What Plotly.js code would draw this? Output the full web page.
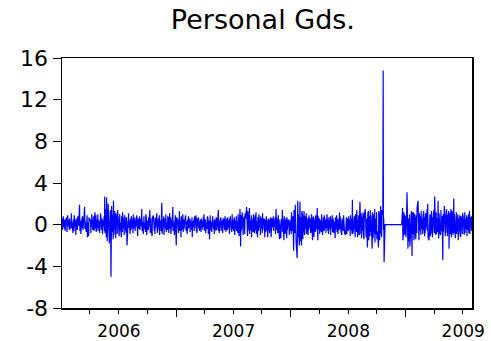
<!DOCTYPE html>
<html>
<head>
<meta charset="utf-8">
<script src="https://cdn.plot.ly/plotly-3.0.1.min.js"></script>
<style>
html,body{margin:0;padding:0;background:#fff;}
#chart{width:491px;height:341px;}
</style>
</head>
<body>
<div id="chart"></div>
<script>
// Daily values (business days), one array per year
const chartTitle = "Personal Gds.";
const years = [2006, 2007, 2008, 2009];
const yearLabels = ["2006", "2007", "2008", "2009"];
const yTicks = [-8, -4, 0, 4, 8, 12, 16];

const values2006 = [
 0.3,-0.5,0.6,-0.2,0.8,-0.4,0.1,0.5,-0.6,0.2,0.7,-0.3,-0.7,0.4,0.9,-0.2,0.3,-0.5,0.6,0.1,
 -0.4,0.7,1.1,-0.3,0.2,-0.8,0.5,0.3,-0.6,0.9,-0.2,0.4,-1.0,0.6,0.2,-0.5,0.8,-0.3,0.5,-0.1,
 1.9,-0.6,0.4,0.2,-0.9,0.6,-0.3,0.8,0.1,-0.5,0.5,1.0,1.7,-0.4,0.3,-0.7,0.6,-0.2,0.9,-1.2,
 0.2,-1.1,0.7,-0.4,0.5,0.3,-0.8,0.6,-0.2,1.0,-0.5,0.4,-0.3,0.8,-0.6,1.2,-0.4,0.2,0.9,-0.7,
 0.5,-0.3,1.0,-0.6,0.4,0.2,-0.8,0.7,-0.2,1.1,-0.5,0.3,0.6,-0.9,0.4,-0.2,0.8,-0.6,2.7,-0.8,
 1.5,-1.2,2.6,0.4,-1.6,2.0,-0.5,1.2,-0.9,-1.8,1.4,0.6,-5.0,-1.2,1.8,-0.7,0.9,-1.4,2.3,-1.0,
 1.3,-0.8,0.6,-1.3,1.1,0.3,-0.9,1.4,-0.5,0.7,-1.1,0.4,1.0,-0.6,0.2,-1.2,0.8,0.5,-0.7,1.2,
 -0.4,0.6,-1.0,0.3,0.9,-0.5,-0.8,0.7,0.2,-2.0,0.5,-0.6,1.1,-0.3,0.4,-0.9,0.6,0.2,-0.5,0.8,
 -0.3,0.5,-0.8,1.0,-0.4,0.2,0.7,-0.6,0.3,-0.2,0.9,-0.7,0.4,-1.1,0.6,0.1,-0.4,0.8,-0.5,0.3,
 0.6,-0.2,1.5,-0.6,0.3,-0.9,0.5,0.8,-0.4,0.2,-0.7,1.0,-0.3,0.6,-1.0,0.4,0.2,-0.5,0.7,-0.2,
 1.4,-0.8,0.3,0.6,-0.5,-1.1,0.8,-0.2,0.4,0.9,-0.6,0.2,-0.9,0.7,-0.3,0.5,1.1,-0.4,-0.8,0.3,
 0.6,-0.5,0.9,-1.0,0.4,0.2,-0.6,1.2,2.1,-0.9,0.5,-0.3,0.8,-1.0,0.3,0.6,-0.4,1.0,-0.7,0.2,
 -0.5,0.8,-0.3,0.6,-0.8,1.1,-0.4,0.3,0.7,-0.9,0.5,-0.2,1.0,1.7,-0.6,0.3,-1.0,0.6,-0.4,0.9
];
const values2007 = [
 -2.0,0.7,-0.4,0.5,0.2,-0.8,0.6,-0.3,1.3,-0.6,0.4,-1.2,0.8,0.2,-0.5,1.0,-0.7,0.3,0.5,-0.4,
 0.6,-0.2,0.9,-0.6,0.3,-0.9,0.5,0.1,-0.4,0.8,-0.3,0.6,-0.7,0.4,0.2,-0.5,0.7,-1.2,0.3,-0.2,
 0.5,-0.6,0.8,-0.3,0.2,0.9,-0.5,0.4,-0.8,0.6,-0.2,0.7,-0.4,0.3,-0.6,0.5,0.1,-0.7,0.6,-0.3,
 0.4,-0.5,0.7,-0.2,1.0,-0.6,0.3,0.5,-0.8,0.2,-0.4,0.8,-0.3,0.6,-0.9,0.4,-1.4,0.5,0.9,-0.5,
 0.3,-0.7,0.6,-0.2,0.8,-0.4,0.2,-0.9,0.5,0.3,-0.6,0.7,-0.3,0.4,-0.5,0.9,1.4,-0.6,0.3,-0.8,
 0.5,-0.3,0.7,-0.6,0.2,0.4,-0.8,0.6,-0.2,0.5,-0.5,0.8,-0.4,0.3,-0.7,0.6,0.1,-0.5,0.7,-0.3,
 0.4,-0.9,0.6,-0.2,0.8,-0.5,0.3,-0.7,1.0,-0.4,0.5,-0.6,0.2,0.7,-1.0,0.4,-0.3,0.8,-0.6,0.3,
 -0.8,1.0,-0.5,0.6,-1.1,1.5,-0.7,-2.1,0.9,-0.6,1.2,-0.4,0.7,-1.0,0.5,0.8,-0.9,1.1,-0.3,0.6,
 1.7,-0.8,0.5,-1.1,1.3,0.3,-0.6,1.6,-0.9,0.4,-0.5,0.9,-1.2,0.6,0.2,-0.7,1.0,-0.4,0.5,-0.8,
 0.9,-0.5,1.2,-0.9,0.3,-1.2,0.7,0.4,-0.6,1.0,-0.3,0.5,-1.0,0.8,-0.4,0.6,-0.8,1.1,-0.5,0.3,
 0.6,-0.4,-1.2,0.5,-0.7,0.8,0.2,-0.6,0.4,-1.2,0.6,-0.3,0.5,-0.8,0.3,0.7,-1.2,0.4,-0.5,0.6,
 -0.3,0.8,-0.6,0.4,-0.2,0.7,-0.9,0.3,1.5,-0.5,0.6,-0.8,0.2,0.9,-0.4,-1.4,0.5,-0.6,0.3,-1.3,
 0.6,0.2,1.4,-0.7,0.5,-1.5,0.8,-0.4,0.3,-0.9,0.6,-0.3,-1.3,0.7,-0.5,0.4,-0.8,0.5,-1.0,0.3,-0.6
];
const values2008 = [
 0.5,-0.9,1.2,-0.6,0.8,-1.1,0.6,-2.5,1.4,-0.8,1.9,-1.5,0.9,-1.8,-3.2,1.6,2.3,-1.2,1.0,-2.0,
 1.5,2.2,-1.6,0.7,-2.0,1.3,-0.8,0.9,-1.4,0.5,1.3,-0.6,-1.0,0.8,-0.4,1.1,-0.9,0.6,0.3,-1.0,
 0.7,-0.5,0.9,-0.3,0.6,-0.8,0.4,-0.6,1.0,-1.5,0.5,-0.4,0.8,-1.2,0.3,0.6,-0.7,0.9,-0.5,0.4,
 1.6,-0.6,-1.5,0.8,-0.4,0.6,-0.9,0.5,0.2,-0.7,1.0,-0.5,0.4,-1.0,0.7,0.3,-0.6,0.9,-0.4,0.5,
 -0.8,0.6,-0.3,1.0,-0.6,0.4,-0.9,0.7,0.2,-0.5,0.8,-1.0,0.5,-0.3,0.9,-0.7,0.4,0.6,-0.8,0.3,
 -0.6,-1.3,0.7,-0.4,0.9,-0.7,0.5,0.3,-0.9,0.6,-0.5,1.2,-0.4,0.8,-0.7,0.5,-1.0,0.6,0.3,-0.6,
 0.9,-0.5,0.4,-0.8,-1.0,0.6,-0.3,0.7,-0.9,0.6,0.2,-0.6,0.8,-0.4,0.5,-1.1,0.9,-0.5,0.6,-0.9,
 2.4,-0.9,1.2,-0.6,0.8,-1.1,0.5,-1.2,1.0,-0.7,1.4,-0.8,0.6,-1.2,0.9,0.4,-1.0,0.8,2.2,-0.9,
 1.1,-1.3,0.7,-0.6,1.2,-1.0,0.5,-1.4,0.9,1.5,-0.8,1.1,-1.2,0.6,-2.2,1.0,-0.9,1.3,-1.5,0.8,
 -1.1,1.4,-0.7,0.9,-1.6,-2.3,1.2,0.7,-1.3,1.0,-0.8,1.5,-1.7,0.6,-1.0,1.2,-1.4,0.8,-0.6,-2.2,
 1.3,-1.0,0.9,-1.5,1.8,-0.9,1.4,-1.2,0.8,1.6,14.8,-0.5,0.6,-3.6,0,0,0,0,0,0,
 0,0,0,0,0,0,0,0,0,0,0,0,0,0,0,0,0,0,0,0,
 0,0,0,0,0,0,0,0,0,0,0,0,0,0,
 1.6,-1.5,0.8,-0.7,1.2,-1.0,0.9,-0.6
];
const values2009 = [
 0.9,-1.2,3.1,-0.8,1.4,-2.3,0.6,-1.6,1.0,-2.1,0.8,-1.0,1.3,-0.5,-3.0,1.2,-0.9,1.2,-1.5,0.7,
 -0.6,1.0,-1.4,0.5,0.9,-0.8,1.6,2.3,-0.7,0.4,-1.5,1.1,-0.6,0.8,-1.0,1.3,-0.4,0.6,-0.9,1.0,
 -0.5,1.3,-1.1,0.7,-0.8,1.1,-0.4,0.9,1.5,-0.6,2.0,-1.2,-1.5,0.8,-0.7,1.0,-1.1,0.6,1.3,-0.9,
 0.7,-1.2,1.0,-0.6,1.4,-0.8,2.7,-1.0,0.5,1.2,-0.9,0.6,-0.7,2.3,-0.5,-1.3,1.1,-0.8,0.9,-1.0,
 1.4,-0.6,0.8,-1.2,-3.4,1.0,-0.7,1.8,-0.9,1.2,-1.1,0.6,1.5,-0.8,0.9,-1.1,0.7,1.3,-2.3,0.5,
 1.1,-0.9,1.5,-1.2,0.7,-0.5,1.3,-1.0,0.6,2.5,-0.8,1.0,-1.3,0.7,-0.6,1.2,-0.9,0.5,1.0,-1.5,
 0.6,-1.1,0.9,-0.7,0.5,-1.2,0.8,0.4,-0.9,1.1,-0.6,0.7,-1.0,0.5,1.2,-0.8,0.6,-0.4,0.9,-1.1,
 0.7,-0.5,1.0,-0.8,0.4,1.3,-0.9,0.6,-0.4,0.8,-0.6,0.5
];

const valuesByYear = [values2006, values2007, values2008, values2009];

// business-day dates for each year's values
function pad(n){ return (n < 10 ? "0" : "") + n; }
const xDates = [], yVals = [];
valuesByYear.forEach((arr, k) => {
  const d = new Date(Date.UTC(years[k], 0, 1));
  let i = 0;
  while (i < arr.length) {
    const wd = d.getUTCDay();
    if (wd !== 0 && wd !== 6) {
      xDates.push(d.getUTCFullYear() + "-" + pad(d.getUTCMonth() + 1) + "-" + pad(d.getUTCDate()));
      yVals.push(arr[i]);
      i++;
    }
    d.setUTCDate(d.getUTCDate() + 1);
  }
});

const trace = {
  x: xDates, y: yVals, type: "scatter", mode: "lines",
  line: {color: "#0000FF", width: 1.2}, hoverinfo: "skip"
};

const font = "DejaVu Sans, Arial, sans-serif";
const layout = {
  width: 491, height: 341,
  margin: {l: 62, r: 19, t: 58, b: 33, pad: 0},
  paper_bgcolor: "#fff", plot_bgcolor: "#fff",
  showlegend: false,
  title: {text: chartTitle, font: {family: font, size: 27, color: "#000"},
          x: 0.49, xref: "paper", y: 1 - 20/341, yref: "container", yanchor: "middle"},
  xaxis: {
    type: "date",
    range: [xDates[0], xDates[xDates.length - 1]],
    tick0: "2006-01-01", dtick: "M12", tickformat: "%Y",
    ticklabelmode: "period",
    ticks: "outside", ticklen: 7, tickwidth: 1, tickcolor: "#000",
    minor: {dtick: "M3", tick0: "2006-01-01", ticks: "outside", ticklen: 4, tickwidth: 1, tickcolor: "#000", showgrid: false},
    showgrid: false, zeroline: false,
    showline: true, linecolor: "#000", linewidth: 1.5, mirror: true,
    tickfont: {family: font, size: 17, color: "#000"}
  },
  yaxis: {
    range: [-8, 16], tickvals: yTicks, ticktext: yTicks.map(String),
    ticks: "outside", ticklen: 8, tickwidth: 1, tickcolor: "#000",
    showgrid: false, zeroline: false,
    showline: true, linecolor: "#000", linewidth: 1.5, mirror: true,
    tickfont: {family: font, size: 22, color: "#000"}
  }
};

Plotly.newPlot("chart", [trace], layout, {staticPlot: true, displayModeBar: false});
</script>
</body>
</html>
